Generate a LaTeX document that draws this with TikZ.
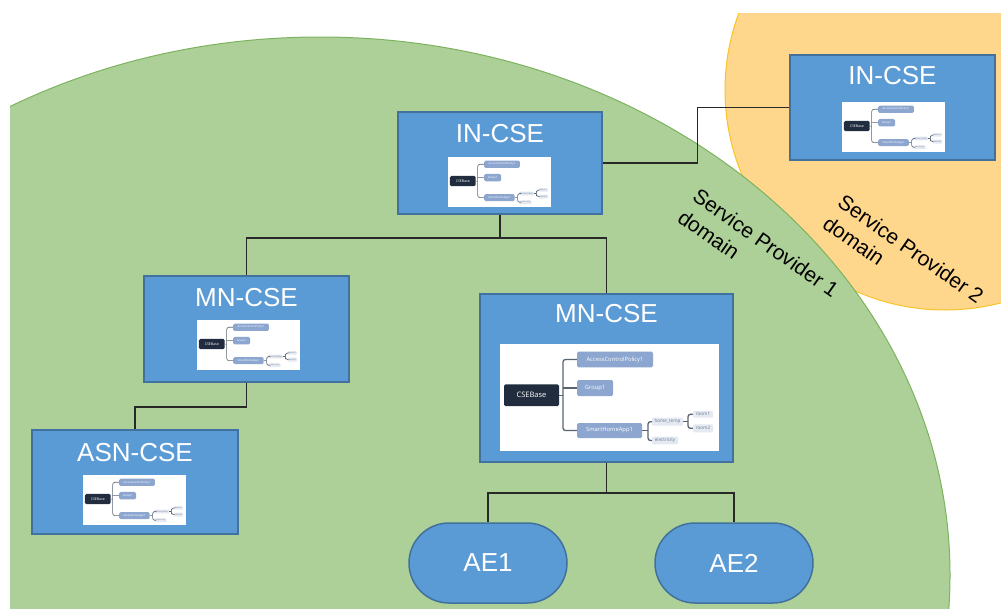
\documentclass[tikz,border=0pt]{standalone}
\usepackage{fontspec}
\setmainfont{Liberation Sans}
\newfontfamily\treefont{Open Sans}
\usetikzlibrary{shapes.misc,calc}
\definecolor{boxblue}{RGB}{91,155,213}
\definecolor{boxedge}{RGB}{65,113,156}
\definecolor{spgreen}{RGB}{172,208,151}
\definecolor{spgreenedge}{RGB}{125,178,95}
\definecolor{sporange}{RGB}{254,215,140}
\definecolor{sporangeedge}{RGB}{250,195,40}
\definecolor{rootcol}{RGB}{33,45,62}
\definecolor{lvlone}{RGB}{140,166,208}
\definecolor{lvltwo}{RGB}{228,233,242}
\definecolor{lvltwotext}{RGB}{110,122,145}
\definecolor{branchcol}{RGB}{90,100,112}
\definecolor{wirecol}{RGB}{40,40,40}
\tikzset{
  csebox/.style={draw=boxedge, line width=1.5pt, fill=boxblue, inner sep=0pt},
  aebox/.style={rounded rectangle, draw=boxedge, line width=1.5pt, fill=boxblue, text=white,
    minimum width=158pt, minimum height=80pt, inner sep=0pt, font=\fontsize{26}{30}\selectfont},
  title/.style={text=white, font=\fontsize{26}{30}\selectfont, anchor=base, inner sep=0pt},
  domainlabel/.style={font=\fontsize{21}{26}\selectfont, align=left, rotate=-35, anchor=north west, inner sep=0pt},
  wire/.style={draw=wirecol, line width=1.1pt},
  treebg/.style={fill=white, draw=none, inner sep=0pt},
  rootbox/.style={fill=rootcol, text=white, font=\treefont\fontsize{7.5}{8}\selectfont, rounded corners=1.5pt, inner sep=0pt},
  lvlonebox/.style={fill=lvlone, text=white, font=\treefont\fontsize{5.8}{6}\selectfont, rounded corners=1.5pt, inner sep=0pt},
  lvltwobox/.style={fill=lvltwo, text=lvltwotext, font=\treefont\fontsize{4.6}{5}\selectfont, rounded corners=1pt, inner sep=0pt},
  branch/.style={draw=branchcol, line width=#1, rounded corners=2.5pt},
  tree/.pic={
    \node[treebg, anchor=north west, minimum width=219pt, minimum height=107pt] (-bg) at (0,0) {};
    \node[rootbox, minimum width=55pt, minimum height=21.7pt] (-root) at (31.5,51.2) {CSEBase};
    \node[lvlonebox, minimum width=76pt, minimum height=15.6pt] (-acp) at (115,15.5) {AccessControlPolicy1};
    \node[lvlonebox, minimum width=36pt, minimum height=16pt] (-grp) at (95,44) {Group1};
    \node[lvlonebox, minimum width=65pt, minimum height=15pt] (-sha) at (109.5,86.5) {SmartHomeApp1};
    \node[lvltwobox, minimum width=31pt, minimum height=8pt] (-ht) at (167.5,77.7) {home\_temp};
    \node[lvltwobox, minimum width=26pt, minimum height=7.6pt] (-el) at (165,96.5) {electricity};
    \node[lvltwobox, minimum width=20pt, minimum height=6.7pt] (-ra) at (203,70.3) {room1};
    \node[lvltwobox, minimum width=20pt, minimum height=8pt] (-rb) at (203,84.3) {room2};
    \draw[branch=#1] (-acp.west) -| (63,51.2) |- (-sha.west);
    \draw[branch=#1] (-root.east) -- (63,51.2);
    \draw[branch=#1] (63,44) -- (-grp.west);
    \draw[branch=#1] (-ht.west) -| (148,86.5) |- (-el.west);
    \draw[branch=#1] (-sha.east) -- (148,86.5);
    \draw[branch=#1] (-ra.west) -| (188,77.7) |- (-rb.west);
    \draw[branch=#1] (-ht.east) -- (188,77.7);
  }
}
\begin{document}
\begin{tikzpicture}[x=1pt,y=-1pt]
\useasboundingbox (0,0) rectangle (1001,608);
\begin{scope}
  \clip (10,13) rectangle (1001,608);
  \draw[fill=sporange, draw=sporangeedge, line width=1pt] (945,90) circle [radius=220];
  \draw[fill=spgreen, draw=spgreenedge, line width=1pt] (320,575) ellipse [x radius=630, y radius=538];
\end{scope}

\node[domainlabel] (sp1) at (700,187) {Service Provider 1\\domain};
\node[domainlabel] (sp2) at (845,193) {Service Provider 2\\domain};

% CSE boxes
\node[csebox, minimum width=204pt, minimum height=102pt] (inA) at (500,163) {};
\node[csebox, minimum width=205pt, minimum height=105pt] (inB) at (892.5,107.5) {};
\node[csebox, minimum width=205pt, minimum height=106pt] (mnL) at (246.5,329) {};
\node[csebox, minimum width=253pt, minimum height=168pt] (mnR) at (606.5,378) {};
\node[csebox, minimum width=206pt, minimum height=104pt] (asn) at (135,482) {};

\node[title] (tA) at ($(inA.north)+(0,31)$) {IN-CSE};
\node[title] (tB) at ($(inB.north)+(0,30)$) {IN-CSE};
\node[title] (tL) at ($(mnL.north)+(0,31)$) {MN-CSE};
\node[title] (tR) at ($(mnR.north)+(0,29)$) {MN-CSE};
\node[title] (tS) at ($(asn.north)+(0,32)$) {ASN-CSE};

% resource trees
\pic[scale=0.47, transform shape] (trA) at (448,157) {tree=0.6pt};
\pic[scale=0.47, transform shape] (trB) at (842,102) {tree=0.6pt};
\pic[scale=0.47, transform shape] (trL) at (197,320) {tree=0.6pt};
\pic[scale=0.47, transform shape] (trS) at (83,475) {tree=0.6pt};
\pic (trR) at (500,344) {tree=1.3pt};

% AE nodes
\node[aebox] (ae1) at (488,563) {AE1};
\node[aebox] (ae2) at (734,563) {AE2};

% connectors
\coordinate (jA) at (500,238);
\coordinate (jB) at (246.5,407);
\coordinate (jC) at (606.5,493);
\draw[wire] (inA.south) -- (jA) -| (mnL.north);
\draw[wire] (jA) -| (mnR.north);
\draw[wire] (mnL.south) -- (jB) -| (asn.north);
\draw[wire] (mnR.south) -- (jC) -| (ae1.north);
\draw[wire] (jC) -| (ae2.north);
\draw[wire] (inA.east) -- ++(95,0) |- (inB.west);
\end{tikzpicture}
\end{document}
